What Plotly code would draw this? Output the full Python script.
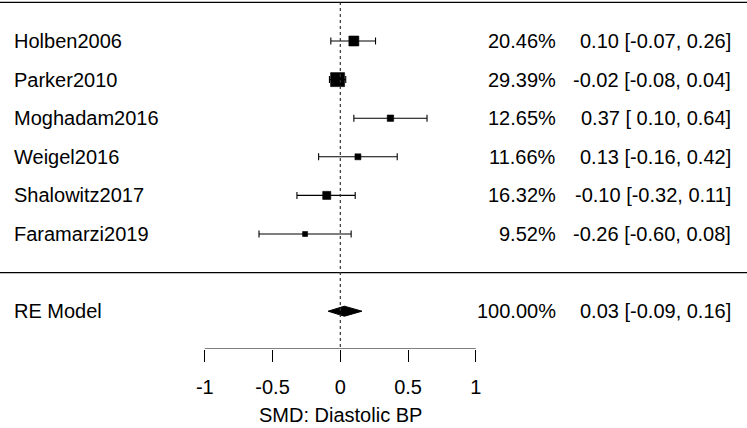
import plotly.graph_objects as go

studies = ["Holben2006", "Parker2010", "Moghadam2016", "Weigel2016", "Shalowitz2017", "Faramarzi2019"]
weights = [20.46, 29.39, 12.65, 11.66, 16.32, 9.52]
est = [0.10, -0.02, 0.37, 0.13, -0.10, -0.26]
ci_lo = [-0.07, -0.08, 0.10, -0.16, -0.32, -0.60]
ci_hi = [0.26, 0.04, 0.64, 0.42, 0.11, 0.08]
re_label = "RE Model"
re_weight = 100.00
re_est = 0.03
re_lo = -0.09
re_hi = 0.16
tick_vals = [-1, -0.5, 0, 0.5, 1]
tick_text = ["-1", "-0.5", "0", "0.5", "1"]
x_title = "SMD: Diastolic BP"

W, H = 747, 428
FONT = "Arial, Liberation Sans, sans-serif"
FS = 20

k = len(studies)
rows = list(range(k, 0, -1))
re_row = -1

# pixel mapping: x=0 at 340.3px, 135.5 px per unit
x0px, xscale = 340.3, 135.5
xr = [(0 - x0px) / xscale, (W - x0px) / xscale]
plot_bottom = 349
y0px, yscale = 272.6, 38.6
yr = [(y0px - plot_bottom) / yscale, y0px / yscale]

wmin, wmax = min(weights), max(weights)
sizes = [5 + (w - wmin) * 9 / (wmax - wmin) for w in weights]

fig = go.Figure()
fig.add_trace(go.Scatter(
    x=est, y=rows, mode="markers", opacity=1,
    marker=dict(symbol="square", size=sizes, color="black", opacity=1,
                line=dict(width=0.6, color="black")),
    error_x=dict(type="data", symmetric=False,
                 array=[h - e for h, e in zip(ci_hi, est)],
                 arrayminus=[e - l for e, l in zip(est, ci_lo)],
                 color="black", thickness=1.1, width=3.5),
    showlegend=False, hoverinfo="skip"))

h = 0.13
fig.add_trace(go.Scatter(
    x=[re_lo, re_est, re_hi, re_est, re_lo],
    y=[re_row, re_row + h, re_row, re_row - h, re_row],
    mode="lines", fill="toself", fillcolor="black",
    line=dict(color="black", width=1), showlegend=False, hoverinfo="skip"))

shapes = [
    dict(type="line", xref="paper", x0=0, x1=1, yref="y", y0=k + 1, y1=k + 1,
         line=dict(color="black", width=1.3)),
    dict(type="line", xref="paper", x0=0, x1=1, yref="y", y0=0, y1=0,
         line=dict(color="black", width=1.3)),
    dict(type="line", xref="x", x0=0, x1=0, yref="y", y0=yr[0] + 0.05, y1=k + 1,
         line=dict(color="#333", width=1.2, dash="dot")),
    dict(type="line", xref="x", x0=tick_vals[0], x1=tick_vals[-1], yref="y", y0=yr[0], y1=yr[0],
         line=dict(color="black", width=1)),
]

ann = []
def fmt(v):
    return f"{v:5.2f}"
all_labels = studies + [re_label]
all_w = weights + [re_weight]
all_e = est + [re_est]
all_l = ci_lo + [re_lo]
all_h = ci_hi + [re_hi]
all_rows = rows + [re_row]
for lab, w, e, l, hi, r in zip(all_labels, all_w, all_e, all_l, all_h, all_rows):
    ann.append(dict(x=12 / W, xref="paper", y=r, yref="y", text=lab, showarrow=False,
                    xanchor="left", yanchor="middle", font=dict(size=FS, color="black", family=FONT)))
    ann.append(dict(x=558 / W, xref="paper", y=r, yref="y", text=f"{w:.2f}%", showarrow=False,
                    xanchor="right", yanchor="middle", font=dict(size=FS, color="black", family=FONT)))
    ann.append(dict(x=733 / W, xref="paper", y=r, yref="y",
                    text=f"{e:.2f} [{fmt(l)}, {hi:.2f}]",
                    showarrow=False, xanchor="right", yanchor="middle",
                    font=dict(size=FS, color="black", family=FONT)))

# axis title (paper y is relative to the plot area, which ends at plot_bottom)
ann.append(dict(x=0, xref="x", y=(plot_bottom - (H - 1)) / plot_bottom, yref="paper", text=x_title,
                showarrow=False, xanchor="center", yanchor="bottom", borderpad=0,
                font=dict(size=FS, color="black", family=FONT)))

fig.update_layout(
    width=W, height=H,
    margin=dict(l=0, r=0, t=0, b=H - plot_bottom, autoexpand=False),
    paper_bgcolor="white", plot_bgcolor="white",
    shapes=shapes, annotations=ann,
    xaxis=dict(range=xr, showgrid=False, zeroline=False, showline=False,
               automargin=False,
               tickmode="array", tickvals=tick_vals, ticktext=tick_text,
               ticks="outside", ticklen=12, tickwidth=1, tickcolor="black",
               ticklabelstandoff=8,
               tickfont=dict(size=FS, color="black", family=FONT)),
    yaxis=dict(range=yr, visible=False),
    font=dict(family=FONT, color="black"),
)

fig.write_html("out.html", config={"displayModeBar": False},
               post_script="document.body.style.margin='0';document.body.style.padding='0';")
